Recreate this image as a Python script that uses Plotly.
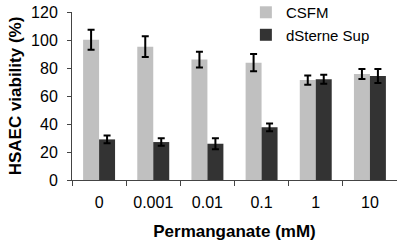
import plotly.graph_objects as go

categories = ["0", "0.001", "0.01", "0.1", "1", "10"]
csfm = [100.2, 95.2, 86.0, 83.8, 71.4, 75.7]
csfm_err = [7.1, 7.4, 5.6, 6.2, 3.3, 3.5]
dsterne = [29.0, 27.1, 25.9, 37.6, 72.0, 74.3]
dsterne_err = [2.7, 2.7, 4.0, 2.7, 3.2, 5.0]
y_ticks = [0, 20, 40, 60, 80, 100, 120]

font_family = "Liberation Sans, Arial, sans-serif"

fig = go.Figure()
fig.add_trace(go.Bar(
    x=categories, y=csfm, name="CSFM",
    marker=dict(color="#c0c0c0", line=dict(width=0)),
    error_y=dict(type="data", array=csfm_err, color="black", thickness=2, width=3.5),
))
fig.add_trace(go.Bar(
    x=categories, y=dsterne, name="dSterne Sup",
    marker=dict(color="#333333", line=dict(width=0)),
    error_y=dict(type="data", array=dsterne_err, color="black", thickness=2, width=3.5),
))

fig.update_layout(
    width=397, height=246,
    margin=dict(l=72, r=0, t=12, b=66, autoexpand=False),
    paper_bgcolor="white", plot_bgcolor="white",
    barmode="group", bargap=0.41, bargroupgap=0,
    font=dict(family=font_family, color="black"),
    showlegend=True,
    legend=dict(
        x=0.535, y=1.095, xanchor="left", yanchor="top",
        font=dict(size=15, family=font_family),
        bgcolor="rgba(0,0,0,0)",
        itemwidth=30, tracegroupgap=0,
    ),
    xaxis=dict(
        type="category", automargin=False,
        showline=True, linecolor="#444", linewidth=1,
        ticks="outside", tickson="boundaries", ticklen=5, tickcolor="#444",
        tickfont=dict(size=16),
        ticklabelstandoff=8, ticklabeloverflow="allow",
        title=dict(text="<b>Permanganate (mM)</b>", font=dict(size=17), standoff=14),
        showgrid=False,
    ),
    yaxis=dict(
        range=[0, 120], tickvals=y_ticks, automargin=False,
        showline=True, linecolor="#444", linewidth=1,
        ticks="outside", ticklen=4, tickcolor="#444",
        tickfont=dict(size=16),
        ticklabelstandoff=6, ticklabeloverflow="allow",
        title=dict(text="<b>HSAEC viability (%)</b>", font=dict(size=17), standoff=5),
        showgrid=False, zeroline=False,
    ),
)

fig.write_html(
    "out.html",
    config={"displayModeBar": False},
    post_script="document.body.style.margin='0';",
)
